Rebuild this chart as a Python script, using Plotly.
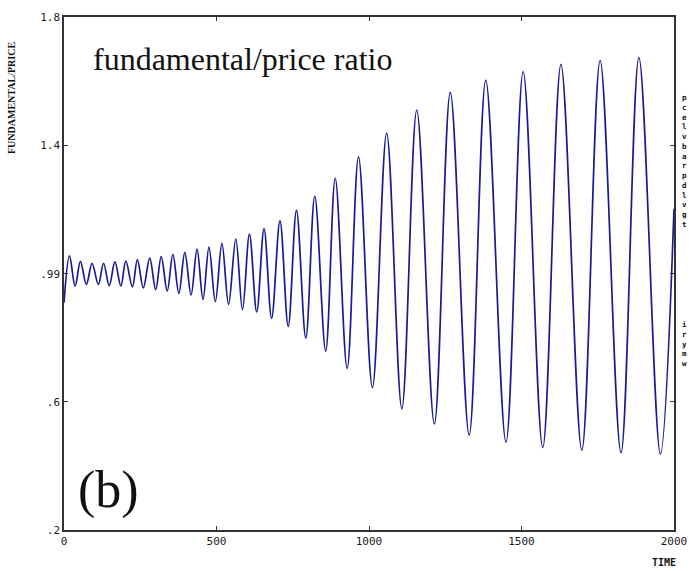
import plotly.graph_objects as go

# extrema of the fundamental/price ratio series (time, value)
time_pts = [0, 18, 36.5, 53.8, 73.4, 91.9, 112.5, 129.7, 148.3, 166.9, 186.5, 202.8,
            224.3, 240.6, 260.1, 281.0, 300.6, 318.8, 338.4, 357.0, 376.5, 396.1,
            416.6, 436.2, 455.7, 475.3, 496.2, 517.7, 539.5, 563.3, 585.2, 608.0,
            631.8, 655.9, 680.7, 708.1, 735.1, 762.2, 792.8, 822.2, 858.0, 889.3,
            928.4, 965.6, 1011.2, 1057.9, 1107.7, 1156.6, 1214.3, 1266.5, 1328.4,
            1382.9, 1449.1, 1505.5, 1569.7, 1629.3, 1697.8, 1757.8, 1826.2, 1885.0,
            1955.3, 2000]
ratio_vals = [0.909, 1.055, 0.961, 1.038, 0.966, 1.032, 0.966, 1.032, 0.962, 1.036,
              0.961, 1.039, 0.958, 1.043, 0.955, 1.048, 0.950, 1.053, 0.945, 1.060,
              0.938, 1.066, 0.933, 1.076, 0.919, 1.082, 0.912, 1.094, 0.904, 1.107,
              0.887, 1.123, 0.880, 1.140, 0.860, 1.164, 0.835, 1.197, 0.799, 1.241,
              0.758, 1.297, 0.704, 1.364, 0.644, 1.438, 0.578, 1.510, 0.531, 1.565,
              0.496, 1.603, 0.474, 1.630, 0.457, 1.652, 0.449, 1.664, 0.441, 1.673,
              0.437, 1.202]

x_ticks = [0, 500, 1000, 1500, 2000]
x_tick_text = ["0", "500", "1000", "1500", "2000"]
y_ticks = [0.2, 0.6, 0.999, 1.4, 1.8]
y_tick_text = [".2", ".6", ".99", "1.4", "1.8"]

side_chars_1 = ["p", "c", "e", "l", "v", "b", "a", "r", "p", "d", "l", "v", "g", "t"]
side_chars_2 = ["i", "r", "y", "m", "w"]

fig = go.Figure()
fig.add_trace(go.Scatter(
    x=time_pts, y=ratio_vals, mode="lines",
    line=dict(color="#1a1a94", width=1.7, shape="spline", smoothing=1.0),
    showlegend=False, hoverinfo="skip"))

tickfont = dict(family="DejaVu Sans Mono", size=11, color="#1a1a1a")
fig.update_layout(
    width=698, height=571,
    margin=dict(l=64, r=20, t=11, b=41),
    paper_bgcolor="white", plot_bgcolor="white",
    xaxis=dict(range=[0, 2000], tickvals=x_ticks, ticktext=x_tick_text,
               ticks="inside", ticklen=4, tickcolor="#333", tickwidth=1,
               showline=True, linecolor="#333", linewidth=1.5, mirror="ticks",
               showgrid=False, zeroline=False, tickfont=tickfont),
    yaxis=dict(range=[0.2, 1.8], tickvals=y_ticks, ticktext=y_tick_text,
               ticks="inside", ticklen=4, tickcolor="#333", tickwidth=1,
               showline=True, linecolor="#333", linewidth=1.5, mirror="ticks",
               showgrid=False, zeroline=False, tickfont=tickfont),
)

ann = []
ann.append(dict(text="fundamental/price ratio", xref="paper", yref="paper",
                x=0.045, y=0.918, xanchor="left", yanchor="middle", showarrow=False,
                font=dict(family="Liberation Serif", size=32, color="#111")))
ann.append(dict(text="(b)", xref="paper", yref="paper",
                x=0.02, y=0.078, xanchor="left", yanchor="middle", showarrow=False,
                font=dict(family="Liberation Serif", size=52, color="#111")))
ann.append(dict(text="<b>FUNDAMENTAL/PRICE</b>", xref="paper", yref="paper",
                x=-0.087, y=0.842, xanchor="center", yanchor="middle", showarrow=False,
                textangle=-90, font=dict(family="Liberation Sans Narrow", size=10, color="#111")))
ann.append(dict(text="<b>TIME</b>", xref="paper", yref="paper",
                x=0.983, y=-0.064, xanchor="center", yanchor="middle", showarrow=False,
                font=dict(family="DejaVu Sans Mono", size=10, color="#111")))
ann.append(dict(text="<b>" + "<br>".join(side_chars_1) + "</b>", xref="paper", yref="paper",
                x=1.012, y=0.853, xanchor="left", yanchor="top", showarrow=False,
                align="left", borderpad=0,
                font=dict(family="DejaVu Sans Mono", size=7.5, color="#111")))
ann.append(dict(text="<b>" + "<br>".join(side_chars_2) + "</b>", xref="paper", yref="paper",
                x=1.012, y=0.412, xanchor="left", yanchor="top", showarrow=False,
                align="left", borderpad=0,
                font=dict(family="DejaVu Sans Mono", size=7.5, color="#111")))
fig.update_layout(annotations=ann)

fig.write_html("out.html")
